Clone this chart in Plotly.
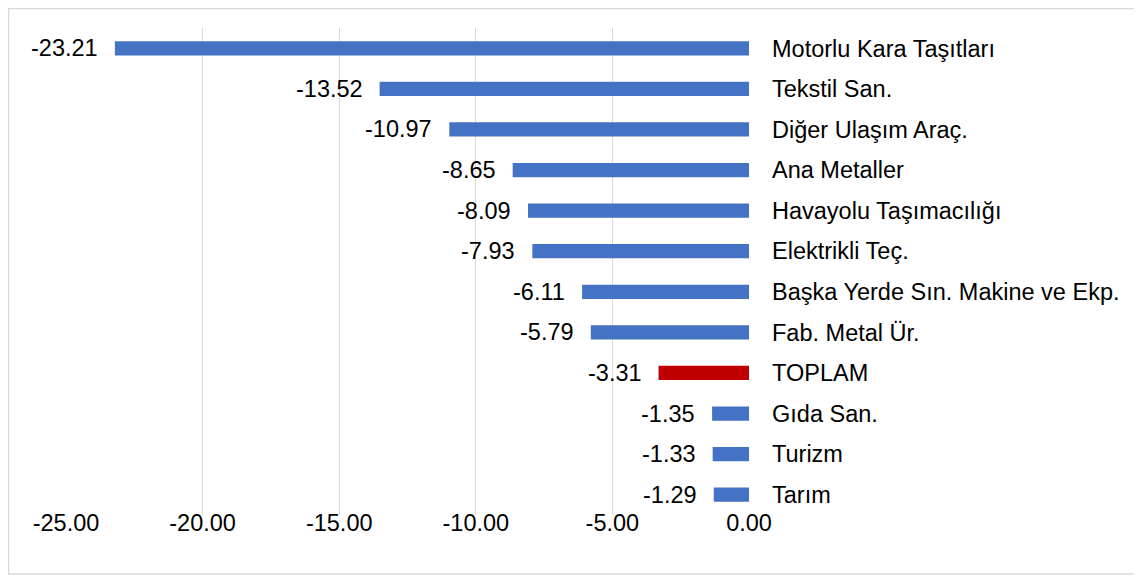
import plotly.graph_objects as go

categories = ["Motorlu Kara Taşıtları", "Tekstil San.", "Diğer Ulaşım Araç.", "Ana Metaller",
              "Havayolu Taşımacılığı", "Elektrikli Teç.", "Başka Yerde Sın. Makine ve Ekp.",
              "Fab. Metal Ür.", "TOPLAM", "Gıda San.", "Turizm", "Tarım"]
values = [-23.21, -13.52, -10.97, -8.65, -8.09, -7.93, -6.11, -5.79, -3.31, -1.35, -1.33, -1.29]
tick_vals = [-25, -20, -15, -10, -5, 0]
tick_text = ["-25.00", "-20.00", "-15.00", "-10.00", "-5.00", "0.00"]

BLUE = "#4472C4"
RED = "#C00000"
colors = [RED if c == "TOPLAM" else BLUE for c in categories]

FONT = "Liberation Sans, Arial, sans-serif"

fig = go.Figure(go.Bar(
    x=values, y=categories, orientation="h",
    marker=dict(color=colors, line=dict(width=0)),
    hoverinfo="x+y",
))

for c, v in zip(categories, values):
    fig.add_annotation(x=v, y=c, xref="x", yref="y", text=f"{v:.2f}",
                       showarrow=False, xanchor="right", xshift=-15,
                       font=dict(family=FONT, size=23.5, color="#000000"))

fig.add_shape(type="rect", xref="paper", yref="paper",
              x0=-0.0842, x1=1.578, y0=-0.121, y1=1.040,
              line=dict(color="#d9d9d9", width=1.5), fillcolor="rgba(0,0,0,0)")

fig.update_layout(
    width=1142, height=578,
    margin=dict(l=58, r=401, t=20, b=71, autoexpand=False),
    paper_bgcolor="white", plot_bgcolor="white",
    bargap=0.65,
    showlegend=False,
    font=dict(family=FONT, size=23.5, color="#000000"),
    xaxis=dict(range=[-25, 0], tickvals=tick_vals, ticktext=tick_text,
               showgrid=True, gridcolor="#d9d9d9", gridwidth=1,
               zeroline=False, showline=False, ticks="",
               automargin=False, ticklabelstandoff=-9,
               tickfont=dict(family=FONT, size=23.5, color="#000000")),
    yaxis=dict(autorange="reversed", side="right", showgrid=False,
               zeroline=False, showline=False, ticks="",
               automargin=False,
               ticklabelstandoff=22,
               tickfont=dict(family=FONT, size=23.5, color="#000000")),
)

fig.write_html("out.html")
